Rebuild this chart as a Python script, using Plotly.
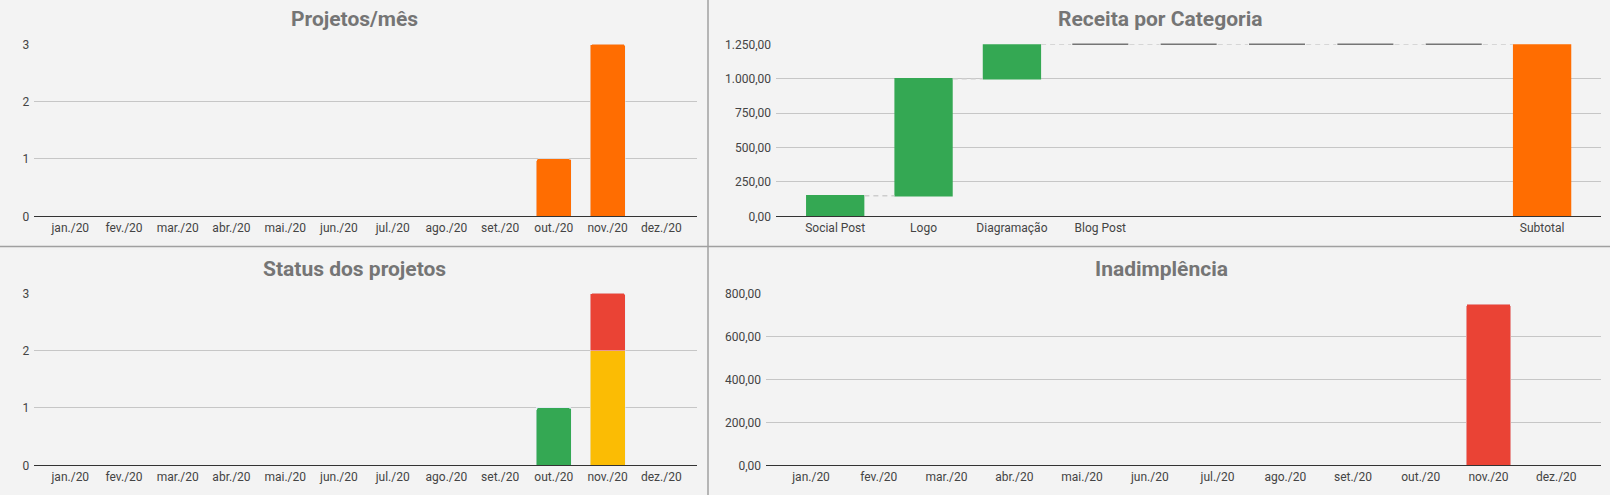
import plotly.graph_objects as go
import numpy as np

W, H = 1610, 495

# ---------------- data ----------------
meses = ['jan./20', 'fev./20', 'mar./20', 'abr./20', 'mai./20', 'jun./20',
         'jul./20', 'ago./20', 'set./20', 'out./20', 'nov./20', 'dez./20']
projetos_mes = [0, 0, 0, 0, 0, 0, 0, 0, 0, 1, 3, 0]

categorias = ['Social Post', 'Logo', 'Diagramação', 'Blog Post', '', '', '', '', 'Subtotal']
receita = [150, 850, 250, 0, 0, 0, 0, 0, 0]
medidas = ['relative'] * 8 + ['total']

status_concluido = [0, 0, 0, 0, 0, 0, 0, 0, 0, 1, 0, 0]
status_andamento = [0, 0, 0, 0, 0, 0, 0, 0, 0, 0, 2, 0]
status_atrasado = [0, 0, 0, 0, 0, 0, 0, 0, 0, 0, 1, 0]

inadimplencia = [0, 0, 0, 0, 0, 0, 0, 0, 0, 0, 750, 0]

# ---------------- styles ----------------
BG = '#f3f3f3'
GRID = '#c6c6c6'
TXT = '#444444'
TITLE = '#757575'
ORANGE = '#ff6d01'
GREEN = '#34a853'
YELLOW = '#fbbc04'
RED = '#ea4335'
FONT = 'Roboto, Arial, sans-serif'


def px_x(a, b):
    return [a / W, b / W]


def px_y(top, bottom):
    return [1 - bottom / H, 1 - top / H]


fig = go.Figure()

# Top-left: Projetos/mês
fig.add_trace(go.Bar(x=meses, y=projetos_mes, marker_color=ORANGE,
                     xaxis='x', yaxis='y', name='Projetos'))

# Top-right: Receita por Categoria (waterfall)
idx = list(range(len(categorias)))
fig.add_trace(go.Waterfall(
    x=idx, y=receita, measure=medidas, xaxis='x2', yaxis='y2',
    increasing=dict(marker=dict(color=GREEN)),
    decreasing=dict(marker=dict(color=RED)),
    totals=dict(marker=dict(color=ORANGE)),
    connector=dict(mode='between', line=dict(color='#cdcdcd', width=1.5, dash='5px,4px')),
    name='Receita'))

# zero-value categories drawn as thin dark lines at the running total
cum = np.cumsum([v if m == 'relative' else 0 for v, m in zip(receita, medidas)])
zx = [i for i, (v, m) in enumerate(zip(receita, medidas)) if m == 'relative' and v == 0]
zy = [cum[i] for i in zx]
fig.add_trace(go.Scatter(x=zx, y=zy, mode='markers', xaxis='x2', yaxis='y2',
                         marker=dict(symbol='line-ew', size=40,
                                     line=dict(width=1.6, color='#757575')),
                         cliponaxis=False, hoverinfo='skip', showlegend=False))

# Bottom-left: Status dos projetos (stacked)
fig.add_trace(go.Bar(x=meses, y=status_concluido, marker_color=GREEN,
                     xaxis='x3', yaxis='y3', name='Concluído'))
fig.add_trace(go.Bar(x=meses, y=status_andamento, marker_color=YELLOW,
                     xaxis='x3', yaxis='y3', name='Em andamento'))
fig.add_trace(go.Bar(x=meses, y=status_atrasado, marker_color=RED,
                     xaxis='x3', yaxis='y3', name='Atrasado'))

# Bottom-right: Inadimplência
fig.add_trace(go.Bar(x=meses, y=inadimplencia, marker_color=RED,
                     xaxis='x4', yaxis='y4', name='Inadimplência'))

tickfont = dict(family=FONT, size=12, color=TXT)


def xax(domain, anchor, rng, **kw):
    d = dict(domain=domain, anchor=anchor, range=rng, showgrid=False,
             showline=True, linecolor='#333333', linewidth=1, ticks='',
             tickfont=tickfont, zeroline=False, fixedrange=True, automargin=False)
    d.update(kw)
    return d


def yax(domain, anchor, rng, dtick, fmt):
    return dict(domain=domain, anchor=anchor, range=rng, dtick=dtick,
                tickformat=fmt, showgrid=True, gridcolor=GRID, gridwidth=1,
                zeroline=False, showline=False, ticks='', tickfont=tickfont,
                ticklabelstandoff=4, fixedrange=True, automargin=False)


top_y = px_y(44.3, 216.3)
bot_y = px_y(293.3, 465.3)

layout = dict(
    width=W, height=H,
    margin=dict(l=0, r=0, t=0, b=0, pad=0, autoexpand=False),
    paper_bgcolor=BG, plot_bgcolor=BG,
    showlegend=False,
    barmode='stack', bargap=0.35, waterfallgap=0.34, barcornerradius=2,
    separators=',.',
    font=dict(family=FONT, size=12, color=TXT),
    xaxis=xax(px_x(34.3, 697.3), 'y', [-0.67, 11.67]),
    yaxis=yax(top_y, 'x', [0, 3], 1, 'd'),
    xaxis2=xax(px_x(776, 1601.3), 'y2', [-0.67, 8.67],
               tickmode='array', tickvals=idx, ticktext=categorias),
    yaxis2=yax(top_y, 'x2', [0, 1250], 250, ',.2f'),
    xaxis3=xax(px_x(34.3, 697.3), 'y3', [-0.67, 11.67]),
    yaxis3=yax(bot_y, 'x3', [0, 3], 1, 'd'),
    xaxis4=xax(px_x(766, 1601.3), 'y4', [-0.665, 11.665]),
    yaxis4=yax(bot_y, 'x4', [0, 800], 200, ',.2f'),
)
fig.update_layout(**layout)

titles = [('Projetos/mês', 354, 19), ('Receita por Categoria', 1160, 19),
          ('Status dos projetos', 354, 268.5), ('Inadimplência', 1161, 268.5)]
for t, cx, cy in titles:
    fig.add_annotation(text='<b>%s</b>' % t, xref='paper', yref='paper',
                       x=cx / W, y=1 - cy / H, xanchor='center', yanchor='middle',
                       showarrow=False,
                       font=dict(family=FONT, size=21, color=TITLE))

# panel dividers
fig.add_shape(type='line', xref='paper', yref='paper', x0=708 / W, x1=708 / W,
              y0=0, y1=1, line=dict(color='#a0a0a0', width=1.5))
fig.add_shape(type='line', xref='paper', yref='paper', x0=0, x1=1,
              y0=1 - 246.5 / H, y1=1 - 246.5 / H, line=dict(color='#a0a0a0', width=1.5))

fig.write_html('out.html')
